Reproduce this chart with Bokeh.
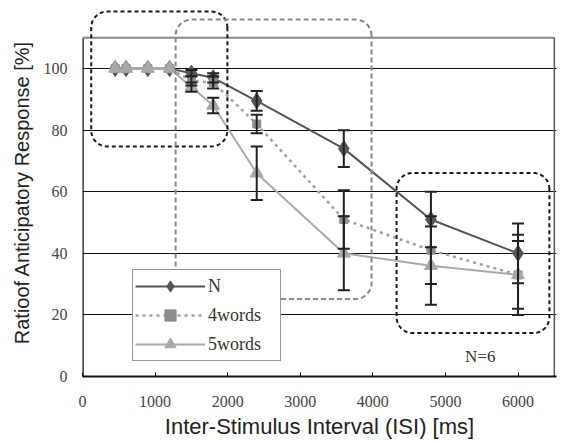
import numpy as np
from bokeh.plotting import figure
from bokeh.models import FixedTicker, Range1d, Legend, LegendItem
from bokeh.core.properties import value
from bokeh.embed import file_html
from bokeh.resources import INLINE

# ---- data ----
isi = [450, 600, 900, 1200, 1500, 1800, 2400, 3600, 4800, 6000]
n_vals = [100, 100, 100, 100, 98.5, 97, 89.5, 74, 51, 40]
n_err = [0, 0, 0, 0, 1, 1.5, 3.2, 6, 9, 9.7]
w4_vals = [100, 100, 100, 100, 96, 95.5, 82, 51, 41, 33]
w4_err = [0, 0, 0, 0, 1.5, 2, 3, 9.5, 11, 13]
w5_vals = [100, 100, 100, 100, 94, 88, 66, 40, 36, 33]
w5_err = [0, 0, 0, 0, 1.5, 2.5, 8.7, 12, 12.7, 11]
series_labels = ["N", "4words", "5words"]
x_ticks = [0, 1000, 2000, 3000, 4000, 5000, 6000]
y_ticks = [0, 20, 40, 60, 80, 100]
x_axis_max = 6500
y_axis_max = 110
# highlight regions (x0, x1, y0, y1)
box_black1 = [120, 1996, 74.7, 118.5]
box_gray = [1283, 3982, 25.2, 115.9]
box_black2 = [4327, 6432, 14.1, 66.1]
note_text = ["N=6"]
note_x = [5480]
note_y = [6.5]

W, H = 561, 441
ML, MR, MT, MB = 82, 5, 8, 65
XR = (0, 6530)
YR = (0, 119.5)

p = figure(width=W, height=H, x_range=Range1d(*XR), y_range=Range1d(*YR),
           output_backend="svg", toolbar_location=None,
           min_border_left=ML, min_border_right=MR, min_border_top=MT,
           min_border_bottom=MB)
p.outline_line_color = None
p.background_fill_color = "white"
p.border_fill_color = "white"

p.xgrid.visible = False
p.ygrid.ticker = FixedTicker(ticks=y_ticks)
p.ygrid.grid_line_color = "#111111"
p.ygrid.grid_line_width = 1

serif = "Liberation Serif"
sans = "Liberation Sans"

xa = p.xaxis[0]
xa.ticker = FixedTicker(ticks=x_ticks)
xa.major_tick_in = 4
xa.major_tick_out = 0
xa.minor_tick_line_color = None
xa.axis_line_width = 2
xa.axis_line_color = "#111111"
xa.major_tick_line_color = "#111111"
xa.major_label_text_font = serif
xa.major_label_text_font_size = "16px"
xa.major_label_text_color = "#444444"
xa.major_label_standoff = 19
xa.axis_label = "Inter-Stimulus Interval (ISI) [ms]"
xa.axis_label_text_font = sans
xa.axis_label_text_font_style = "normal"
xa.axis_label_text_font_size = "22px"
xa.axis_label_text_color = "#222222"
xa.axis_label_standoff = 4

ya = p.yaxis[0]
ya.ticker = FixedTicker(ticks=y_ticks)
ya.major_tick_in = 0
ya.major_tick_out = 0
ya.minor_tick_line_color = None
ya.axis_line_color = None
ya.major_label_text_font = serif
ya.major_label_text_font_size = "16px"
ya.major_label_text_color = "#444444"
ya.major_label_standoff = 15
ya.axis_label = "Ratioof Anticipatory Response [%]"
ya.axis_label_text_font = sans
ya.axis_label_text_font_style = "normal"
ya.axis_label_text_font_size = "20px"
ya.axis_label_text_color = "#222222"
ya.axis_label_standoff = 8

# frame lines
p.segment(x0=[0], y0=[0], x1=[0], y1=[y_axis_max], line_color="#111111", line_width=2.5)
p.segment(x0=[0], y0=[y_axis_max], x1=[x_axis_max], y1=[y_axis_max], line_color="#888888", line_width=2)
p.segment(x0=[x_axis_max], y0=[0], x1=[x_axis_max], y1=[y_axis_max], line_color="#555555", line_width=1.5)

# series
styles = [
    dict(vals=n_vals, err=n_err, color="#555555", dash="solid", lw=2, marker="diamond", size=16, mcolor="#555555"),
    dict(vals=w4_vals, err=w4_err, color="#a0a0a0", dash="3 4", lw=2.5, marker="square", size=8, mcolor="#8c8c8c"),
    dict(vals=w5_vals, err=w5_err, color="#aaaaaa", dash="solid", lw=2, marker="triangle", size=13, mcolor="#a8a8a8"),
]

items = []
for lab, st in zip(series_labels, styles):
    ln = p.line(isi, st["vals"], line_color=st["color"], line_width=st["lw"], line_dash=st["dash"])
    sc = p.scatter(isi, st["vals"], marker=st["marker"], size=st["size"],
                   fill_color=st["mcolor"], line_color=st["mcolor"])
    items.append(LegendItem(label=lab, renderers=[ln, sc]))

for st in styles:
    xs = [x for x, e in zip(isi, st["err"]) if e > 0]
    lo = [v - e for v, e in zip(st["vals"], st["err"]) if e > 0]
    hi = [v + e for v, e in zip(st["vals"], st["err"]) if e > 0]
    p.segment(x0=xs, y0=lo, x1=xs, y1=hi, line_color="#222222", line_width=2)
    p.scatter(xs + xs, lo + hi, marker="dash", size=12, line_color="#222222", line_width=2)

legend = Legend(items=items, location=(50, 15))
legend.border_line_color = "#333333"
legend.border_line_width = 1
legend.background_fill_color = "white"
legend.background_fill_alpha = 1
legend.label_text_font = serif
legend.label_text_font_size = "18px"
legend.label_text_color = "#333333"
legend.glyph_width = 70
legend.glyph_height = 28
legend.label_height = 28
legend.label_width = 70
legend.spacing = 1
legend.padding = 2
legend.margin = 0
legend.label_standoff = 3
p.add_layout(legend)

# rounded dashed highlight boxes
px_x = (W - ML - MR) / (XR[1] - XR[0])
px_y = (H - MT - MB) / (YR[1] - YR[0])


def rounded(box, r_px):
    x0, x1, y0, y1 = box
    rx, ry = r_px / px_x, r_px / px_y
    t = np.linspace(0, np.pi / 2, 14)
    xs, ys = [], []
    for cx, cy, a0 in [(x1 - rx, y1 - ry, 0), (x0 + rx, y1 - ry, np.pi / 2),
                       (x0 + rx, y0 + ry, np.pi), (x1 - rx, y0 + ry, 1.5 * np.pi)]:
        xs += list(cx + rx * np.cos(t + a0))
        ys += list(cy + ry * np.sin(t + a0))
    xs.append(xs[0])
    ys.append(ys[0])
    return xs, ys


for box, col, dash in [(box_black1, "#1a1a1a", "4 3"), (box_gray, "#888888", "5 3"), (box_black2, "#1a1a1a", "4 3")]:
    bx, by = rounded(box, 16)
    r = p.line(bx, by, line_color=col, line_width=2, line_dash=dash)
    r.level = "overlay"

p.text(x=note_x, y=note_y, text=note_text, text_font=value(serif), text_font_size="17px",
       text_align="center", text_baseline="middle", text_color="#333333")

open("out.html", "w").write(file_html(p, INLINE))
